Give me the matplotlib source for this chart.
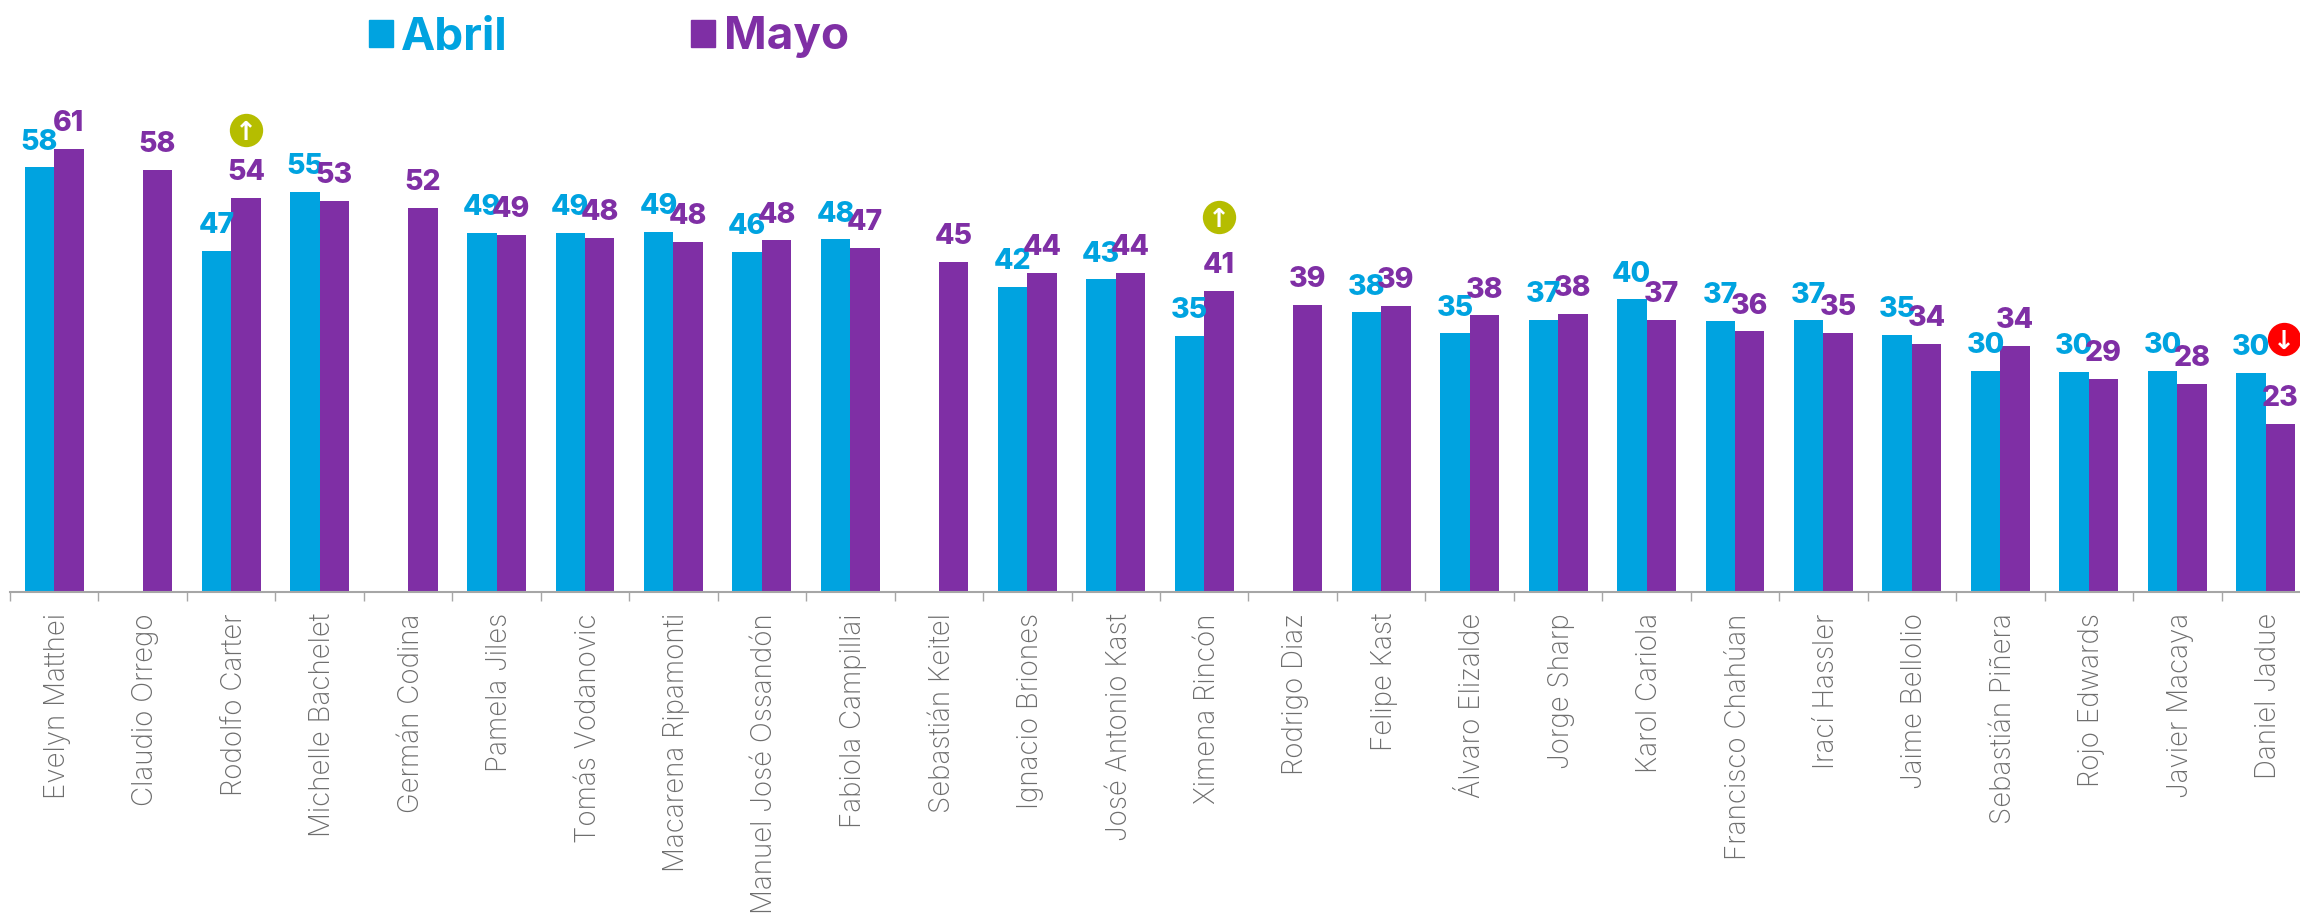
import matplotlib
matplotlib.use("Agg")
import matplotlib.pyplot as plt
from matplotlib.patches import Patch
from matplotlib.transforms import ScaledTranslation
import numpy as np

names = ["Evelyn Matthei", "Claudio Orrego", "Rodolfo Carter", "Michelle Bachelet", "Germán Codina",
         "Pamela Jiles", "Tomás Vodanovic", "Macarena Ripamonti", "Manuel José Ossandón", "Fabiola Campillai",
         "Sebastián Keitel", "Ignacio Briones", "José Antonio Kast", "Ximena Rincón", "Rodrigo Diaz",
         "Felipe Kast", "Álvaro Elizalde", "Jorge Sharp", "Karol Cariola", "Francisco Chahúan",
         "Irací Hassler", "Jaime Bellolio", "Sebastián Piñera", "Rojo Edwards", "Javier Macaya", "Daniel Jadue"]

abril = [58.45, np.nan, 47.0, 55.05, np.nan, 49.4, 49.4, 49.55, 46.8, 48.55,
         np.nan, 42.05, 43.05, 35.25, np.nan, 38.5, 35.6, 37.5, 40.3, 37.3,
         37.4, 35.35, 30.4, 30.3, 30.5, 30.2]
mayo = [61.0, 58.1, 54.2, 53.8, 52.85, 49.15, 48.7, 48.2, 48.4, 47.4,
        45.5, 43.9, 43.9, 41.5, 39.5, 39.4, 38.1, 38.3, 37.5, 35.9,
        35.7, 34.15, 33.9, 29.4, 28.65, 23.15]

abril_labels = ["58", "", "47", "55", "", "49", "49", "49", "46", "48",
                "", "42", "43", "35", "", "38", "35", "37", "40", "37",
                "37", "35", "30", "30", "30", "30"]
mayo_labels = ["61", "58", "54", "53", "52", "49", "48", "48", "48", "47",
               "45", "44", "44", "41", "39", "39", "38", "38", "37", "36",
               "35", "34", "34", "29", "28", "23"]

# change badges: category position, height on the value scale, arrow, colour
badge_x = [2.17, 13.17, 25.21]
badge_y = [63.6, 51.6, 34.8]
badge_arrow = ["↑", "↑", "↓"]
badge_color = ["#B5BD00", "#B5BD00", "#FF0000"]

blue = "#00A3E0"
purple = "#7F2FA5"
gray = "#6E6E6E"

plt.rcParams["font.family"] = ["Inter", "DejaVu Sans"]

fig = plt.figure(figsize=(23, 9.19), dpi=100)
# the last category runs slightly past the right edge, as in the source image
ax = fig.add_axes([10 / 2300, (919 - 592.3) / 919, 2300 / 2300, 592.3 / 919])

x = np.arange(len(names))
width = 1 / 3
b1 = ax.bar(x - width / 2, abril, width, color=blue)
b2 = ax.bar(x + width / 2, mayo, width, color=purple)

kwargs = dict(padding=8.5, fontsize=20.5, fontweight="heavy")
ax.bar_label(b1, labels=abril_labels, color=blue, **kwargs)
ax.bar_label(b2, labels=mayo_labels, color=purple, **kwargs)

ax.set_xlim(-0.5, len(names) - 0.5)
ax.set_ylim(0, 592.3 / 7.27)

ax.set_xticks(np.arange(len(names) + 1) - 0.5)
ax.set_xticklabels([])
ax.set_xticks(x, names, minor=True, rotation=90, fontsize=20, fontweight="light", color=gray, va="top", ha="center")
ax.tick_params(axis="x", which="major", length=6.5, width=1, color="#A6A6A6")
ax.tick_params(axis="x", which="minor", length=0, pad=15)
ax.set_yticks([])

# names sit a little right of the group centre
nudge = ScaledTranslation(3 / 100, 0, fig.dpi_scale_trans)
for t in ax.get_xticklabels(minor=True):
    t.set_transform(t.get_transform() + nudge)

for side in ("top", "left", "right"):
    ax.spines[side].set_visible(False)
ax.spines["bottom"].set_color("#A6A6A6")
ax.spines["bottom"].set_linewidth(1.5)

for bx, by, arrow, col in zip(badge_x, badge_y, badge_arrow, badge_color):
    ax.plot(bx, by, "o", color=col, markersize=24, markeredgewidth=0, clip_on=False)
    ax.text(bx, by, arrow, color="white", fontsize=19, fontweight="bold", ha="center", va="center_baseline",
            family=["DejaVu Sans"])

handles = [Patch(color=blue, label="Abril"), Patch(color=purple, label="Mayo")]
ax.legend(handles=handles, loc="upper left", bbox_to_anchor=(363 / 2300, 1 - 11 / 919), bbox_transform=fig.transFigure,
          ncol=2, frameon=False, labelcolor=[blue, purple], handlelength=0.525, handleheight=0.525,
          handletextpad=0.19, columnspacing=4.0, borderaxespad=0, borderpad=0.12,
          prop=dict(family="Inter", weight="bold", size=33))

fig.savefig("out.png", dpi=100)
